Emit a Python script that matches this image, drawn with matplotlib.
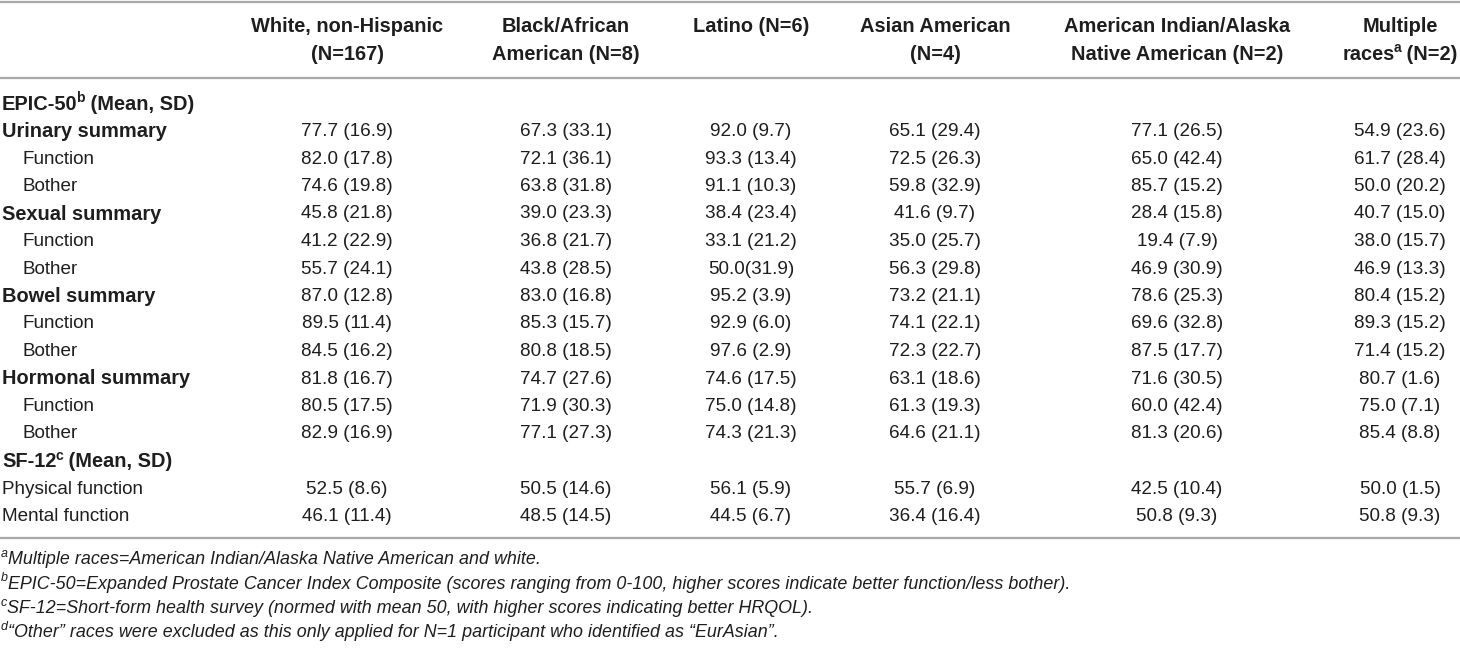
import matplotlib
matplotlib.use("Agg")
import matplotlib.pyplot as plt

plt.rcParams['font.family'] = ['Liberation Sans', 'DejaVu Sans']

# column headers: (line1 parts, line2 parts); parts are (text, superscript?)
headers = [
    ([("White, non-Hispanic", False)], [("(N=167)", False)]),
    ([("Black/African", False)], [("American (N=8)", False)]),
    ([("Latino (N=6)", False)], []),
    ([("Asian American", False)], [("(N=4)", False)]),
    ([("American Indian/Alaska", False)], [("Native American (N=2)", False)]),
    ([("Multiple", False)], [("races", False), ("a", True), (" (N=2)", False)]),
]

# row labels: (parts, style) style: 'sec' bold, 'sub' indented, 'plain'
row_labels = [
    ([("EPIC-50", False), ("b", True), (" (Mean, SD)", False)], "sec"),
    ([("Urinary summary", False)], "sec"),
    ([("Function", False)], "sub"),
    ([("Bother", False)], "sub"),
    ([("Sexual summary", False)], "sec"),
    ([("Function", False)], "sub"),
    ([("Bother", False)], "sub"),
    ([("Bowel summary", False)], "sec"),
    ([("Function", False)], "sub"),
    ([("Bother", False)], "sub"),
    ([("Hormonal summary", False)], "sec"),
    ([("Function", False)], "sub"),
    ([("Bother", False)], "sub"),
    ([("SF-12", False), ("c", True), (" (Mean, SD)", False)], "sec"),
    ([("Physical function", False)], "plain"),
    ([("Mental function", False)], "plain"),
]

white = ["", "77.7 (16.9)", "82.0 (17.8)", "74.6 (19.8)", "45.8 (21.8)", "41.2 (22.9)",
         "55.7 (24.1)", "87.0 (12.8)", "89.5 (11.4)", "84.5 (16.2)", "81.8 (16.7)",
         "80.5 (17.5)", "82.9 (16.9)", "", "52.5 (8.6)", "46.1 (11.4)"]
black = ["", "67.3 (33.1)", "72.1 (36.1)", "63.8 (31.8)", "39.0 (23.3)", "36.8 (21.7)",
         "43.8 (28.5)", "83.0 (16.8)", "85.3 (15.7)", "80.8 (18.5)", "74.7 (27.6)",
         "71.9 (30.3)", "77.1 (27.3)", "", "50.5 (14.6)", "48.5 (14.5)"]
latino = ["", "92.0 (9.7)", "93.3 (13.4)", "91.1 (10.3)", "38.4 (23.4)", "33.1 (21.2)",
          "50.0(31.9)", "95.2 (3.9)", "92.9 (6.0)", "97.6 (2.9)", "74.6 (17.5)",
          "75.0 (14.8)", "74.3 (21.3)", "", "56.1 (5.9)", "44.5 (6.7)"]
asian = ["", "65.1 (29.4)", "72.5 (26.3)", "59.8 (32.9)", "41.6 (9.7)", "35.0 (25.7)",
         "56.3 (29.8)", "73.2 (21.1)", "74.1 (22.1)", "72.3 (22.7)", "63.1 (18.6)",
         "61.3 (19.3)", "64.6 (21.1)", "", "55.7 (6.9)", "36.4 (16.4)"]
am_indian = ["", "77.1 (26.5)", "65.0 (42.4)", "85.7 (15.2)", "28.4 (15.8)", "19.4 (7.9)",
             "46.9 (30.9)", "78.6 (25.3)", "69.6 (32.8)", "87.5 (17.7)", "71.6 (30.5)",
             "60.0 (42.4)", "81.3 (20.6)", "", "42.5 (10.4)", "50.8 (9.3)"]
multiple = ["", "54.9 (23.6)", "61.7 (28.4)", "50.0 (20.2)", "40.7 (15.0)", "38.0 (15.7)",
            "46.9 (13.3)", "80.4 (15.2)", "89.3 (15.2)", "71.4 (15.2)", "80.7 (1.6)",
            "75.0 (7.1)", "85.4 (8.8)", "", "50.0 (1.5)", "50.8 (9.3)"]
columns = [white, black, latino, asian, am_indian, multiple]

footnotes = [
    ("a", "Multiple races=American Indian/Alaska Native American and white."),
    ("b", "EPIC-50=Expanded Prostate Cancer Index Composite (scores ranging from 0-100, "
          "higher scores indicate better function/less bother)."),
    ("c", "SF-12=Short-form health survey (normed with mean 50, with higher scores "
          "indicating better HRQOL)."),
    ("d", "\u201cOther\u201d races were excluded as this only applied for N=1 participant "
          "who identified as \u201cEurAsian\u201d."),
]

W, H = 1460, 648
col_x = [347, 566, 751, 935, 1177, 1400]
FS = 13.6       # body text
FS_BOLD = 14.4  # headers and section labels
FS_NOTE = 12.9  # footnotes
TXT = "#1e1e1e"
LINE = "#a8a8a8"

fig = plt.figure(figsize=(W / 100, H / 100), dpi=100)
ax = fig.add_axes([0, 0, 1, 1])
ax.set_xlim(0, W)
ax.set_ylim(H, 0)
ax.axis("off")
renderer = fig.canvas.get_renderer()


def rich(x, y, parts, ha="left", size=FS, **kw):
    # draw a run of text pieces, superscripts smaller and raised
    texts = []
    for s, sup in parts:
        if sup:
            t = ax.text(0, y - 6, s, fontsize=size * 0.7, va="center", color=TXT, **kw)
        else:
            t = ax.text(0, y, s, fontsize=size, va="center", color=TXT, **kw)
        texts.append(t)
    widths = [t.get_window_extent(renderer).width for t in texts]
    # pull superscripts a little closer to the preceding glyph
    gaps = [(-1.2 if (k > 0 and p[1]) else 0) for k, p in enumerate(parts)]
    total = sum(widths) + sum(gaps)
    x0 = x - total / 2 if ha == "center" else x
    for t, w, g in zip(texts, widths, gaps):
        x0 += g
        t.set_x(x0)
        x0 += w


# rules
for yl in (1.5, 78, 538):
    ax.plot([0, W], [yl, yl], color=LINE, lw=1.6, solid_capstyle="butt")

# header
for cx, (l1, l2) in zip(col_x, headers):
    rich(cx, 27, l1, ha="center", size=FS_BOLD, fontweight="bold")
    if l2:
        rich(cx, 54, l2, ha="center", size=FS_BOLD, fontweight="bold")

# body
row_y0, row_dy = 104, 27.5
for i, (parts, style) in enumerate(row_labels):
    y = row_y0 + i * row_dy
    if style == "sec":
        rich(2, y, parts, size=FS_BOLD, fontweight="bold")
    elif style == "sub":
        rich(22, y, parts)
    else:
        rich(2, y, parts)
    for cx, col in zip(col_x, columns):
        if col[i]:
            ax.text(cx, y, col[i], fontsize=FS, ha="center", va="center", color=TXT)

# footnotes
for j, (mark, note) in enumerate(footnotes):
    y = 560 + j * 24.3
    rich(1, y, [(mark, True), (note, False)], size=FS_NOTE, fontstyle="italic")

fig.savefig("out.png", dpi=100)
